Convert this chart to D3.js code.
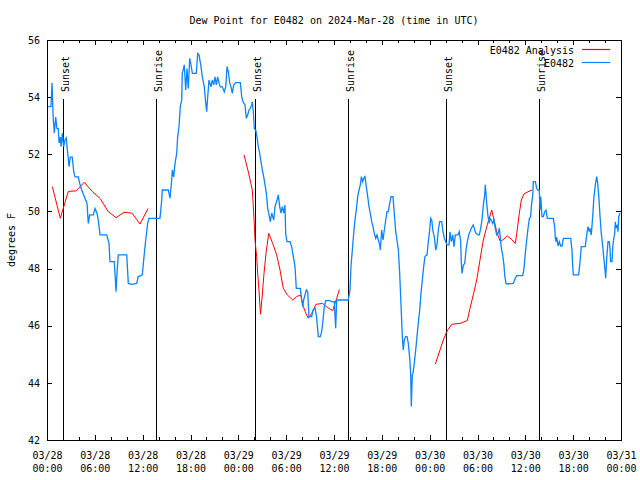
<!DOCTYPE html>
<html>
<head>
<meta charset="utf-8">
<script src="https://cdn.jsdelivr.net/npm/d3@7"></script>
<style>
  html, body { margin: 0; padding: 0; background: #fff; }
  text { font-family: "DejaVu Sans Mono", monospace; font-size: 10px; fill: #000; }
</style>
</head>
<body>
<svg id="chart" width="640" height="480"></svg>
<script>
// ---------- DATA ----------
const title = "Dew Point for E0482 on 2024-Mar-28 (time in UTC)";
const yLabel = "degrees F";
const startDate = "2024-03-28T00:00:00Z";
const endDate = "2024-03-31T00:00:00Z";
const yTicks = [42, 44, 46, 48, 50, 52, 54, 56];
const seriesNames = ["E0482 Analysis", "E0482"];

// sun events, hours after 2024-03-28 00:00 UTC
const sunHours = [2.0, 13.73, 26.06, 37.79, 50.1, 61.75];
const sunLabels = ["Sunset", "Sunrise", "Sunset", "Sunrise", "Sunset", "Sunrise"];

// observations [hours after start, dew point F]
const observed = [
[0.16,53.67],[0.50,53.67],[0.63,54.49],[0.79,53.2],[0.92,52.75],[1.09,53.3],[1.25,52.9],[1.42,52.9],[1.51,52.4],[1.67,52.6],[1.76,52.27],[1.92,52.73],[2.09,52.27],[2.26,52.5],[2.42,52.57],[2.51,52.27],[2.67,51.86],[2.76,51.57],[2.92,51.9],[3.17,51.9],[3.35,51.39],[3.51,51.21],[3.93,51.21],[4.10,50.98],[4.35,50.75],[4.68,50.52],[5.02,50.28],[5.18,49.58],[5.36,49.88],[5.81,49.88],[6.02,50.1],[6.27,49.94],[6.43,49.7],[6.65,49.18],[7.49,49.18],[7.78,48.88],[7.90,48.24],[8.44,48.24],[8.53,47.83],[8.66,47.19],[8.78,47.83],[8.94,48.48],[10.0,48.48],[10.2,47.48],[10.62,47.45],[11.25,47.48],[11.45,47.72],[11.95,47.78],[12.17,48.42],[12.38,49.0],[12.63,49.58],[12.79,49.76],[14.17,49.76],[14.39,50.4],[14.46,50.75],[15.22,50.75],[15.43,50.46],[15.64,51.1],[15.72,51.45],[15.89,51.21],[16.06,51.68],[16.27,52.03],[16.39,52.62],[16.56,52.97],[16.72,53.67],[16.90,53.9],[16.97,54.83],[17.22,55.13],[17.40,54.25],[17.56,55.0],[17.72,54.3],[17.90,55.36],[18.06,55.13],[18.23,54.83],[18.73,54.83],[18.90,55.53],[19.07,55.48],[19.32,55.07],[19.48,54.71],[19.73,54.36],[19.91,53.79],[20.03,53.49],[20.16,54.02],[20.32,54.6],[20.57,54.36],[20.73,54.6],[20.91,54.43],[21.07,54.71],[21.24,54.43],[21.41,54.71],[21.58,54.49],[21.74,54.36],[21.99,54.36],[22.24,54.19],[22.42,54.36],[22.58,55.07],[22.74,54.9],[22.92,54.49],[23.08,54.36],[23.24,54.13],[23.42,54.43],[23.67,54.51],[24.25,54.51],[24.42,54.02],[24.59,53.84],[24.84,53.72],[25.0,53.26],[25.18,53.38],[25.34,53.55],[25.50,53.61],[25.68,53.72],[25.75,53.84],[25.88,53.49],[26.0,52.9],[26.18,52.85],[26.34,52.62],[26.50,52.27],[26.68,52.03],[26.84,51.74],[27.01,51.45],[27.18,51.22],[27.35,50.93],[27.51,50.64],[27.68,50.11],[27.85,49.88],[28.01,49.64],[28.19,49.94],[28.44,49.7],[28.60,50.17],[28.85,50.4],[29.01,50.58],[29.19,50.17],[29.35,49.94],[29.52,50.17],[29.69,49.94],[29.85,50.22],[29.94,49.23],[30.10,48.94],[30.48,48.94],[30.69,48.77],[30.90,48.42],[31.11,48.07],[31.27,47.31],[31.77,47.31],[31.95,46.9],[32.07,46.67],[32.20,46.9],[32.36,47.08],[32.53,47.25],[32.70,47.19],[32.86,46.32],[33.20,46.32],[33.37,46.55],[33.62,46.61],[33.78,46.38],[33.96,45.85],[34.03,45.62],[34.28,45.62],[34.46,45.79],[34.62,46.2],[34.78,46.67],[34.96,46.88],[35.50,46.88],[35.71,46.84],[36.04,46.84],[36.21,45.91],[36.34,46.9],[36.54,46.9],[37.79,46.9],[38.01,47.25],[38.13,48.07],[38.30,48.65],[38.47,49.23],[38.63,49.7],[38.80,50.05],[38.97,50.52],[39.14,50.75],[39.30,50.93],[39.43,51.22],[39.60,51.04],[39.73,51.16],[39.89,51.22],[40.05,50.87],[40.23,50.52],[40.39,50.17],[40.55,49.94],[40.73,49.64],[40.89,49.47],[41.06,49.23],[41.23,49.06],[41.39,49.18],[41.56,49.0],[41.73,48.83],[41.81,48.65],[41.98,49.35],[42.15,49.0],[42.31,49.35],[42.49,49.7],[42.65,49.99],[42.81,49.99],[42.99,50.28],[43.15,50.52],[43.40,50.52],[43.56,49.94],[43.74,49.29],[43.90,49.0],[44.07,48.65],[44.24,47.83],[44.40,46.78],[44.57,45.62],[44.69,45.15],[44.82,45.5],[44.99,45.62],[45.16,45.62],[45.32,45.38],[45.50,44.86],[45.62,44.28],[45.70,43.17],[45.82,44.28],[45.91,44.33],[46.07,44.68],[46.25,45.15],[46.41,45.62],[46.57,46.08],[46.75,46.55],[46.91,47.13],[47.08,47.6],[47.25,48.07],[47.41,48.42],[47.67,48.48],[47.83,48.94],[48.0,49.35],[48.13,49.76],[48.26,49.7],[48.42,49.29],[48.58,49.12],[48.76,48.65],[48.92,48.83],[49.08,49.35],[49.26,49.64],[49.51,49.64],[49.67,49.29],[49.84,49.06],[50.01,48.94],[50.17,48.83],[50.43,48.83],
[50.55,49.29],[50.72,48.94],[50.89,49.18],[51.05,48.77],[51.22,49.18],[51.55,49.18],[51.72,49.29],[51.89,48.94],[51.97,48.18],[52.06,47.83],[52.22,48.12],[52.40,48.18],[52.56,48.65],[52.72,48.94],[52.90,49.18],[53.06,49.29],[53.22,49.41],[53.47,49.53],[53.65,49.35],[53.81,49.23],[54.06,49.18],[54.23,49.18],[54.40,49.41],[54.56,49.7],[54.73,50.22],[54.90,50.58],[54.98,50.93],[55.16,50.28],[55.32,49.82],[55.48,49.58],[55.57,49.76],[55.73,49.7],[55.91,49.58],[56.07,49.7],[56.23,49.41],[56.41,49.18],[56.57,49.23],[56.74,49.41],[56.82,49.18],[56.99,48.71],[57.16,48.48],[57.32,48.12],[57.41,47.78],[57.57,47.48],[57.74,47.46],[58.49,47.48],[58.74,47.66],[58.92,47.75],[59.67,47.75],[59.83,48.0],[60.0,48.53],[60.17,49.0],[60.34,49.41],[60.51,49.76],[60.67,49.82],[60.75,50.17],[60.93,50.58],[61.0,51.04],[61.25,51.04],[61.43,50.81],[61.59,50.75],[61.75,50.75],[61.84,50.05],[61.93,50.52],[62.09,49.82],[62.26,49.82],[62.43,49.99],[62.59,50.05],[62.76,49.76],[63.51,49.76],[63.68,49.47],[63.76,49.06],[63.85,48.94],[63.93,49.1],[64.10,48.79],[64.26,48.94],[64.44,48.79],[64.60,48.79],[64.77,49.06],[65.69,49.06],[65.85,48.65],[65.94,48.07],[66.02,47.78],[66.69,47.78],[66.86,48.24],[67.02,48.77],[67.52,48.77],[67.70,49.18],[67.86,49.47],[68.02,49.29],[68.11,49.41],[68.27,49.18],[68.45,49.82],[68.61,50.52],[68.78,50.93],[68.95,51.22],[69.08,50.98],[69.20,50.58],[69.37,49.82],[69.53,49.23],[69.71,48.77],[69.87,48.3],[69.99,47.95],[70.08,47.66],[70.21,48.36],[70.37,48.94],[70.53,48.94],[70.62,48.71],[70.70,48.24],[70.87,48.24],[70.96,48.71],[71.03,48.94],[71.21,49.23],[71.29,49.64],[71.37,49.41],[71.53,49.53],[71.62,49.29],[71.71,49.82],[71.87,49.94]
];

// analysis, three separate segments
const analysis1 = [
[0.67,50.87],[1.67,49.76],[2.67,50.7],[3.67,50.72],[4.67,51.02],[5.67,50.7],[6.67,50.45],[7.67,50.0],[8.67,49.78],[9.67,49.97],[10.67,49.94],[11.67,49.56],[12.67,50.1]
];
const analysis2 = [
[24.71,51.98],[25.25,51.39],[25.75,50.75],[25.88,50.17],[26.0,49.58],[26.09,49.0],[26.3,48.42],[26.43,47.83],[26.59,47.25],[26.78,46.4],[26.97,46.96],[27.22,47.83],[27.47,48.53],[27.81,49.23],[28.31,48.88],[28.81,48.48],[29.23,47.95],[29.64,47.31],[30.14,47.08],[30.82,46.9],[31.32,47.02],[31.82,47.08],[32.15,46.67],[32.49,46.43],[32.78,46.26],[33.20,46.43],[33.74,46.75],[34.58,46.78],[35.16,46.64],[35.84,46.53],[36.34,46.96],[36.67,47.27]
];
const analysis3 = [
[48.71,44.66],[49.30,45.15],[49.71,45.5],[50.14,45.79],[50.76,46.05],[51.80,46.08],[52.72,46.18],[53.06,46.61],[53.47,47.08],[53.90,47.6],[54.31,48.3],[54.73,49.0],[55.23,49.53],[55.78,50.05],[56.07,49.7],[56.41,49.29],[56.82,48.97],[57.16,49.0],[57.74,49.14],[58.24,49.03],[58.74,48.88],[58.92,49.23],[59.25,49.94],[59.50,50.4],[59.83,50.61],[60.34,50.69],[60.84,50.75]
];

// ---------- DRAW ----------
const svg = d3.select("#chart");
const m = { left: 47, right: 621, top: 40, bottom: 440 };
const t0 = new Date(startDate).getTime();
const toDate = h => new Date(t0 + h * 3600000);

const x = d3.scaleUtc().domain([new Date(startDate), new Date(endDate)]).range([m.left, m.right]);
const y = d3.scaleLinear().domain([42, 56]).range([m.bottom, m.top]);

const colors = { analysis: "#ff0000", obs: "#0a84ff" };

// minor/major x ticks
const majorX = d3.utcHour.every(6).range(new Date(startDate), new Date(new Date(endDate).getTime() + 1));
const minorX = d3.utcHour.every(2).range(new Date(startDate), new Date(new Date(endDate).getTime() + 1));

function cleanAxis(g) { g.select(".domain").remove(); g.selectAll("line").attr("stroke", "#000").attr("shape-rendering", "crispEdges"); }

svg.append("g").attr("transform", `translate(0,${m.bottom})`)
  .call(d3.axisBottom(x).tickValues(minorX).tickSize(-3).tickFormat(""))
  .call(cleanAxis);
svg.append("g").attr("transform", `translate(0,${m.top})`)
  .call(d3.axisTop(x).tickValues(minorX).tickSize(-3).tickFormat(""))
  .call(cleanAxis);
svg.append("g").attr("transform", `translate(0,${m.top})`)
  .call(d3.axisTop(x).tickValues(majorX).tickSize(-5).tickFormat(""))
  .call(cleanAxis);

const fmtD = d3.utcFormat("%m/%d"), fmtT = d3.utcFormat("%H:%M");
const gxb = svg.append("g").attr("transform", `translate(0,${m.bottom})`)
  .call(d3.axisBottom(x).tickValues(majorX).tickSize(-5).tickPadding(10).tickFormat(""))
  .call(cleanAxis);
gxb.selectAll(".tick").each(function(d) {
  const t = d3.select(this).select("text")
    .attr("y", 19).attr("dy", null).attr("font-family", null).attr("font-size", null).attr("fill", "#000");
  t.text(null);
  t.append("tspan").attr("x", 0).attr("y", 19).text(fmtD(d));
  t.append("tspan").attr("x", 0).attr("y", 32).text(fmtT(d));
});

const gyl = svg.append("g").attr("transform", `translate(${m.left},0)`)
  .call(d3.axisLeft(y).tickValues(yTicks).tickSize(-5).tickPadding(7).tickFormat(d3.format("d")))
  .call(cleanAxis);
gyl.selectAll("text").attr("font-family", null).attr("font-size", null).attr("fill", "#000");
svg.append("g").attr("transform", `translate(${m.right},0)`)
  .call(d3.axisRight(y).tickValues(yTicks).tickSize(-5).tickFormat(""))
  .call(cleanAxis);

// sun event lines
const sunTop = m.top + (m.bottom - m.top) * 0.1475;
const sun = svg.append("g");
sun.selectAll("line").data(sunHours).join("line")
  .attr("x1", h => Math.round(x(toDate(h))) + 0.5).attr("x2", h => Math.round(x(toDate(h))) + 0.5)
  .attr("y1", sunTop).attr("y2", m.bottom)
  .attr("stroke", "#000").attr("stroke-width", 1);
sun.selectAll("text").data(sunHours).join("text")
  .attr("transform", h => `translate(${Math.round(x(toDate(h))) + 6},${sunTop - 7}) rotate(-90)`)
  .attr("text-anchor", "start")
  .text((h, i) => sunLabels[i]);

// lines
const line = d3.line().x(d => x(toDate(d[0]))).y(d => y(d[1]));
const clip = svg.append("clipPath").attr("id", "plotclip").append("rect")
  .attr("x", m.left).attr("y", m.top).attr("width", m.right - m.left).attr("height", m.bottom - m.top);
const plot = svg.append("g").attr("clip-path", "url(#plotclip)");
[analysis1, analysis2, analysis3].forEach(seg => {
  plot.append("path").datum(seg).attr("d", line).attr("fill", "none")
    .attr("stroke", colors.analysis).attr("stroke-width", 1);
});
plot.append("path").datum(observed).attr("d", line).attr("fill", "none")
  .attr("stroke", colors.obs).attr("stroke-width", 1.3).attr("stroke-linejoin", "miter");

// frame
svg.append("rect").attr("x", m.left + 0.5).attr("y", m.top + 0.5)
  .attr("width", m.right - m.left).attr("height", m.bottom - m.top)
  .attr("fill", "none").attr("stroke", "#000").attr("shape-rendering", "crispEdges");

// title & labels
svg.append("text").attr("x", (m.left + m.right) / 2).attr("y", 24).attr("text-anchor", "middle").text(title);
svg.append("text").attr("transform", `translate(15,${(m.top + m.bottom) / 2}) rotate(-90)`)
  .attr("text-anchor", "middle").text(yLabel);

// legend
const legColors = [colors.analysis, colors.obs];
const leg = svg.append("g");
seriesNames.forEach((name, i) => {
  const yy = 50 + i * 13;
  leg.append("text").attr("x", 574).attr("y", yy + 4).attr("text-anchor", "end").text(name);
  leg.append("line").attr("x1", 582).attr("x2", 610).attr("y1", yy - 0.5).attr("y2", yy - 0.5)
    .attr("stroke", legColors[i]).attr("stroke-width", 1.2);
});
</script>
</body>
</html>
